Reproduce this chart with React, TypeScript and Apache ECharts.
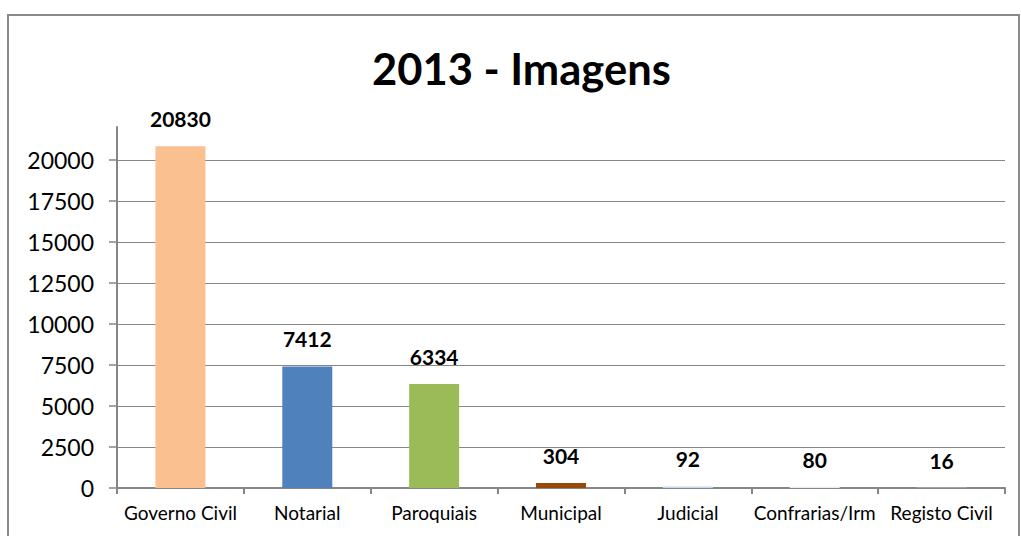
import React, { useEffect, useRef } from "react";
import * as echarts from "echarts";

const categories = ["Governo Civil", "Notarial", "Paroquiais", "Municipal", "Judicial", "Confrarias/Irm", "Registo Civil"];
const values = [20830, 7412, 6334, 304, 92, 80, 16];
const barColors = ["#FAC090", "#4F81BD", "#9BBB59", "#984807", "#C6D9F1", "#E6EEF7", "#F2F2F2"];
const yTicks = [0, 2500, 5000, 7500, 10000, 12500, 15000, 17500, 20000];
const title = "2013 - Imagens";

const FONT = "Lato, 'Open Sans', sans-serif";

export default function App() {
  const ref = useRef<HTMLDivElement>(null);
  useEffect(() => {
    if (!ref.current) return;
    const chart = echarts.init(ref.current, null, { renderer: "svg" });
    chart.setOption({
      animation: false,
      backgroundColor: "#ffffff",
      title: {
        text: title,
        left: 367,
        top: 41,
        textStyle: { fontFamily: FONT, fontSize: 43.5, fontWeight: "bold", color: "#000" },
      },
      graphic: [
        {
          type: "rect",
          shape: { x: 8, y: 15, width: 1011, height: 600 },
          style: { fill: "none", stroke: "#8a8a8a", lineWidth: 2 },
          silent: true,
        },
      ],
      grid: { left: 117, right: 16, top: 127, bottom: 48 },
      xAxis: {
        type: "category",
        data: categories,
        axisLine: { lineStyle: { color: "#868686", width: 2 } },
        axisTick: { show: true, alignWithLabel: false, length: 6, lineStyle: { color: "#868686", width: 2 } },
        axisLabel: { fontFamily: FONT, fontSize: 19, color: "#000", margin: 15, interval: 0 },
      },
      yAxis: {
        type: "value",
        min: 0,
        max: 22000,
        interval: 2500,
        axisLine: { show: true, lineStyle: { color: "#868686", width: 2 } },
        axisTick: { show: true, length: 8, lineStyle: { color: "#868686", width: 1.5 }, customValues: yTicks },
        axisLabel: {
          fontFamily: FONT,
          fontSize: 23,
          color: "#000",
          margin: 23,
          customValues: yTicks,
          formatter: (v: number) => String(v),
        },
        splitLine: { show: true, lineStyle: { color: "#868686", width: 1 } },
      },
      series: [
        {
          type: "bar",
          barWidth: 50,
          data: values.map((v, i) => ({ value: v, itemStyle: { color: barColors[i] } })),
          label: {
            show: true,
            position: "top",
            distance: 17,
            fontFamily: FONT,
            fontSize: 21,
            fontWeight: "bold",
            color: "#000",
          },
        },
      ],
    });
    return () => chart.dispose();
  }, []);
  return (
    <div
      ref={ref}
      style={{ position: "fixed", left: 0, top: 0, width: 1021, height: 536, background: "#fff" }}
    />
  );
}
